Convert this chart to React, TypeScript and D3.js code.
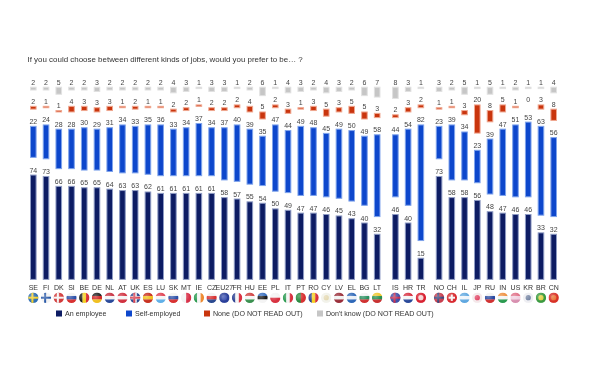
import React from "react";
import * as d3 from "d3";

const title = "If you could choose between different kinds of jobs, would you prefer to be… ?";
const europe = ["SE","FI","DK","SI","BE","DE","NL","AT","UK","ES","LU","SK","MT","IE","CZ","EU27","FR","HU","EE","PL","IT","PT","RO","CY","LV","EL","BG","LT"];
const candidates = ["IS","HR","TR"];
const world = ["NO","CH","IL","JP","RU","IN","US","KR","BR","CN"];
const countries = [...europe, ...candidates, ...world];

const employee = [74,73,66,66,65,65,64,63,63,62,61,61,61,61,61,58,57,55,54,50,49,47,47,46,45,43,40,32, 46,40,15, 73,58,58,56,48,47,46,46,33,32];
const selfEmployed = [22,24,28,28,30,29,31,34,33,35,36,33,34,37,34,37,40,39,35,47,44,49,48,45,49,50,49,58, 44,54,82, 23,39,34,23,39,47,51,53,63,56];
const none = [2,1,1,4,3,3,3,1,2,1,1,2,2,1,2,2,2,4,5,2,3,1,3,5,3,5,5,3, 2,3,2, 1,1,3,20,8,5,1,0,3,8];
const dontKnow = [2,2,5,2,2,3,2,2,2,2,2,4,3,1,3,3,1,2,6,1,4,3,2,4,3,2,6,7, 8,3,1, 3,2,5,1,5,1,2,1,1,4];

const seriesNames = ["An employee","Self-employed","None (DO NOT READ OUT)","Don't know (DO NOT READ OUT)"];
const seriesValues = [employee, selfEmployed, none, dontKnow];
const seriesFill = ["#0b1a63","#0f46cc","#c9340f","#c6c6c6"];
const seriesHalo = ["#8f9cc4","#7fa4ec","#f0a890","#e2e2e2"];
const legendX = [56,126,204,317];
const gaps = [17.7,17.2,16.3];

// flag stripes: [direction, colours...]; "x" = Nordic cross (field, cross, inner), "d" = disc on field
const flags: Record<string,string[]> = {
  SE:["x","#2f6fb5","#f2cf2c"],FI:["x","#f4f4f4","#2b5aa8"],DK:["x","#d23a3a","#f4f4f4"],SI:["h","#f2f2f2","#2c50a8","#d83030"],
  BE:["v","#1a1a1a","#f5d020","#d8303a"],DE:["h","#222222","#cf2a2a","#f0c020"],NL:["h","#c83040","#f4f4f4","#2a4a9a"],AT:["h","#d03040","#f4f4f4","#d03040"],
  UK:["x","#2f4a90","#d84050","#f0f0f0"],ES:["h","#c83020","#f0c020","#c83020"],LU:["h","#e04050","#f4f4f4","#60b0e8"],SK:["h","#f2f2f2","#2c50a8","#d83030"],
  MT:["v","#f2f2f2","#d83048"],IE:["v","#2a9a50","#f4f4f4","#ee8a30"],CZ:["h2","#f2f2f2","#d83030","#2a4a90"],EU27:["d","#2a3f9a","#3a50b0"],
  FR:["v","#2a3f90","#f4f4f4","#d83040"],HU:["h","#d04040","#f4f4f4","#3a9050"],EE:["h","#3a70c0","#1a1a1a","#f4f4f4"],PL:["h2","#f4f4f4","#d83040"],
  IT:["v","#2a9a50","#f4f4f4","#d83040"],PT:["v","#2a8a40","#d83030"],RO:["v","#2a3f90","#f5d020","#d8303a"],CY:["d","#f2f2ea","#e4d8b0"],
  LV:["h","#9a2f3a","#f0f0f0","#9a2f3a"],EL:["h","#2f68b8","#e8eef6","#2f68b8"],BG:["h","#f2f2f2","#2a9060","#d03030"],LT:["h","#f0c830","#2a9050","#c83030"],
  IS:["x","#4050a8","#c83050"],HR:["h","#d83040","#f4f4f4","#2a4a9a"],TR:["d","#d82030","#f4d0d0"],NO:["x","#c84050","#3a4a80"],
  CH:["x0","#d82c30","#f4f4f4"],IL:["h","#60a8e0","#eef4fa","#60a8e0"],JP:["d","#f4e8ea","#e04060"],RU:["h","#f2f2f2","#2a4aa0","#d03030"],
  IN:["h","#ee9040","#f4f4f4","#2a9a50"],US:["h","#e07088","#f0d0e0","#d890b0"],KR:["d","#eeeef2","#7080a0"],BR:["d","#3a9a40","#e0d040"],CN:["d","#d83028","#e87030"],
};

const barBottom = 279.4;
const flagY = 297.7;
const groupGap = 0.43;
const indexOf = (i: number) => i + (i >= europe.length ? groupGap : 0) + (i >= europe.length + candidates.length ? groupGap : 0);
const lastIndex = indexOf(countries.length - 1);
const x = d3.scaleLinear().domain([0, lastIndex]).range([33.3, 553.7]);
const h = d3.scaleLinear().domain([0, 100]).range([0, 141]);
const font = "'Liberation Sans', Arial, sans-serif";

function stackFor(i: number) {
  let bottom = barBottom;
  return seriesValues.map((vals, s) => {
    const height = h(vals[i]);
    const top = bottom - height;
    const out = { s, v: vals[i], top, height };
    bottom = top - (gaps[s] ?? 0);
    return out;
  });
}

function Flag({ code, cx }: { code: string; cx: number }) {
  const f = flags[code];
  const r = 5.2;
  const id = "c" + code;
  const kind = f[0];
  const colors = f.slice(1);
  const left = cx - r, top = flagY - r, d = 2 * r;
  let body: React.ReactNode = null;
  if (kind === "h" || kind === "h2") {
    body = colors.map((c, k) => <rect key={k} x={left} y={top + (k * d) / colors.length} width={d} height={d / colors.length + 0.2} fill={c} />);
  } else if (kind === "v") {
    body = colors.map((c, k) => <rect key={k} x={left + (k * d) / colors.length} y={top} width={d / colors.length + 0.2} height={d} fill={c} />);
  } else if (kind === "x") {
    body = <>
      <rect x={left} y={top} width={d} height={d} fill={colors[0]} />
      {colors[2] && <><rect x={cx - 1.6} y={top} width={3.2} height={d} fill={colors[2]} /><rect x={left} y={flagY - 1.6} width={d} height={3.2} fill={colors[2]} /></>}
      <rect x={cx - 1.9} y={top} width={2} height={d} fill={colors[1]} />
      <rect x={left} y={flagY - 1} width={d} height={2} fill={colors[1]} />
    </>;
  } else if (kind === "x0") {
    body = <>
      <rect x={left} y={top} width={d} height={d} fill={colors[0]} />
      <rect x={cx - 1} y={flagY - 3.2} width={2} height={6.4} fill={colors[1]} />
      <rect x={cx - 3.2} y={flagY - 1} width={6.4} height={2} fill={colors[1]} />
    </>;
  } else {
    body = <>
      <rect x={left} y={top} width={d} height={d} fill={colors[0]} />
      <circle cx={cx} cy={flagY} r={2.6} fill={colors[1]} />
    </>;
  }
  return (
    <g>
      <clipPath id={id}><circle cx={cx} cy={flagY} r={r} /></clipPath>
      <g clipPath={`url(#${id})`}>{body}<circle cx={cx - 1.5} cy={flagY - 1.5} r={r} fill="url(#gloss)" /></g>
    </g>
  );
}

export default function App() {
  return (
    <svg width={594} height={373} viewBox="0 0 594 373" style={{ position: "absolute", left: 0, top: 0, background: "#fff" }} fontFamily={font}>
      <defs>
        <filter id="soft" filterUnits="userSpaceOnUse" x="0" y="0" width="594" height="373"><feGaussianBlur stdDeviation="0.3" /></filter>
        <radialGradient id="gloss"><stop offset="0" stopColor="#fff" stopOpacity="0.3" /><stop offset="1" stopColor="#fff" stopOpacity="0" /></radialGradient>
      </defs>
      <g filter="url(#soft)">
        <text x={27.5} y={61.5} fontSize={7.95} fill="#333">{title}</text>
        {countries.map((code, i) => {
          const cx = x(indexOf(i));
          return (
            <g key={code}>
              {stackFor(i).map(b => (
                <g key={b.s}>
                  <rect x={cx - 2.8} y={b.top} width={5.6} height={b.height} fill={seriesFill[b.s]} stroke={seriesHalo[b.s]} strokeWidth={1} />
                  <text x={cx} y={b.top - 2.5} fontSize={7} fill="#444" textAnchor="middle">{b.v}</text>
                </g>
              ))}
              <text x={cx} y={290} fontSize={7} fill="#333" textAnchor="middle">{code}</text>
              <Flag code={code} cx={cx} />
            </g>
          );
        })}
        {seriesNames.map((name, s) => (
          <g key={name}>
            <rect x={legendX[s]} y={310.5} width={6} height={6} fill={seriesFill[s]} />
            <text x={legendX[s] + 9} y={316} fontSize={7.1} fill="#333">{name}</text>
          </g>
        ))}
      </g>
    </svg>
  );
}
